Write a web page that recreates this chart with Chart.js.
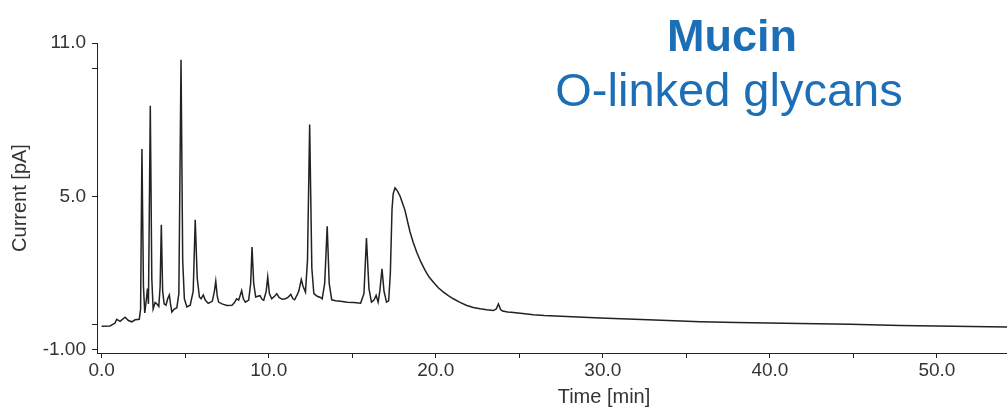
<!DOCTYPE html>
<html>
<head>
<meta charset="utf-8">
<script src="https://cdn.jsdelivr.net/npm/chart.js@4/dist/chart.umd.min.js"></script>
<style>
html, body { margin: 0; padding: 0; background: #fff; overflow: hidden; }
#wrap { width: 1127px; height: 409px; }
</style>
</head>
<body>
<div id="wrap"><canvas id="chromChart" width="1127" height="409"></canvas></div>
<script>
// retention time (min) and detector current (pA)
var times = [
    0.0, 0.5, 0.8, 0.9, 1.1, 1.4, 1.6, 1.8, 2.0, 2.25,
    2.33, 2.41, 2.5, 2.58, 2.68, 2.74, 2.8, 2.91, 3.0, 3.08,
    3.2, 3.3, 3.42, 3.5, 3.57, 3.65, 3.74, 3.85, 3.95, 4.05,
    4.12, 4.2, 4.35, 4.5, 4.62, 4.75, 4.85, 4.95, 5.1, 5.3,
    5.48, 5.6, 5.72, 5.85, 5.95, 6.08, 6.2, 6.38, 6.62, 6.75,
    6.83, 6.92, 7.0, 7.2, 7.5, 7.8, 7.95, 8.08, 8.2, 8.3,
    8.38, 8.48, 8.6, 8.8, 8.92, 9.0, 9.1, 9.22, 9.35, 9.48,
    9.6, 9.7, 9.85, 9.94, 10.04, 10.18, 10.35, 10.48, 10.62, 10.8,
    11.0, 11.15, 11.32, 11.45, 11.55, 11.7, 11.8, 11.95, 12.05, 12.2,
    12.32, 12.45, 12.58, 12.7, 12.9, 13.1, 13.2, 13.35, 13.5, 13.62,
    13.77, 14.0, 14.3, 14.7, 15.1, 15.5, 15.7, 15.85, 16.0, 16.15,
    16.3, 16.43, 16.55, 16.65, 16.78, 16.9, 17.05, 17.18, 17.28, 17.38,
    17.45, 17.56, 17.7, 17.86, 18.0, 18.16, 18.3, 18.46, 18.65, 18.86,
    19.1, 19.36, 19.6, 19.86, 20.15, 20.46, 20.75, 21.05, 21.45, 21.86,
    22.25, 22.65, 23.05, 23.45, 23.62, 23.75, 23.88, 24.0, 24.3, 24.65,
    25.2, 25.84, 26.5, 27.5, 28.5, 29.84, 31.5, 33.5, 35.82, 38.0,
    41.8, 44.8, 47.8, 51.0, 54.2, 55.0
];
var current = [
    -0.07, -0.06, 0.05, 0.2, 0.12, 0.28, 0.15, 0.1, 0.18, 0.2,
    0.6, 6.86, 1.5, 0.45, 1.0, 1.4, 0.8, 8.55, 1.8, 0.6,
    0.85, 0.8, 0.7, 1.5, 3.89, 1.3, 0.8, 0.75, 1.0, 1.15,
    0.8, 0.48, 0.6, 0.65, 1.2, 10.34, 2.5, 1.0, 0.68, 0.75,
    1.3, 4.09, 1.8, 1.07, 1.0, 1.15, 0.95, 0.82, 0.9, 1.3,
    1.69, 1.1, 0.87, 0.8, 0.74, 0.75, 0.85, 1.0, 0.95, 1.15,
    1.32, 1.0, 0.87, 0.95, 1.6, 3.02, 1.6, 1.07, 1.1, 1.12,
    0.98, 0.94, 1.3, 1.85, 1.2, 1.0, 1.1, 1.2, 1.05, 0.98,
    1.0, 1.05, 1.17, 1.0, 0.96, 1.15, 1.3, 1.75, 1.5, 1.26,
    2.5, 7.81, 2.2, 1.2, 1.1, 1.05, 1.0, 1.6, 3.83, 1.6,
    0.96, 0.92, 0.9, 0.86, 0.85, 0.83, 1.2, 3.37, 1.4, 0.87,
    0.95, 1.13, 0.87, 1.3, 2.17, 1.3, 0.87, 0.92, 2.0, 4.5,
    5.1, 5.34, 5.22, 5.02, 4.75, 4.45, 4.05, 3.61, 3.2, 2.82,
    2.45, 2.11, 1.85, 1.65, 1.43, 1.26, 1.12, 1.0, 0.86, 0.74,
    0.66, 0.61, 0.57, 0.54, 0.6, 0.8, 0.58, 0.52, 0.48, 0.46,
    0.42, 0.38, 0.35, 0.32, 0.29, 0.25, 0.21, 0.16, 0.1, 0.07,
    0.03, 0.0, -0.04, -0.07, -0.1, -0.11
];

var xTickValues = [0, 5, 10, 15, 20, 25, 30, 35, 40, 45, 50, 55, 60];
var xTickLabels = ['0.0', '', '10.0', '', '20.0', '', '30.0', '', '40.0', '', '50.0', '', ''];
var yTickValues = [-1, 0, 5, 10, 11];
var yTickLabels = ['-1.00', '', '5.0', '', '11.0'];
var titleLines = ['Mucin', 'O-linked glycans'];

var fontFamily = '"Liberation Sans", Arial, sans-serif';
var axisColor = '#222';
var textColor = '#333';
var titleColor = '#1c6fb6';

// sample name, top right inside the plot
var titlePlugin = {
    id: 'sampleTitle',
    afterDraw(chart) {
        var c = chart.ctx;
        c.save();
        c.fillStyle = titleColor;
        c.textAlign = 'center';
        c.textBaseline = 'alphabetic';
        c.font = 'bold 45px ' + fontFamily;
        c.fillText(titleLines[0], 732, 51);
        c.font = '47px ' + fontFamily;
        c.fillText(titleLines[1], 729, 106);
        c.restore();
    }
};

var ctx = document.getElementById('chromChart').getContext('2d');
var chromChart = new Chart(ctx, {
    type: 'line',
    data: {
        datasets: [{
            label: 'Mucin',
            data: times.map((t, i) => ({ x: t, y: current[i] })),
            borderColor: '#222',
            borderWidth: 1.5,
            pointRadius: 0,
            tension: 0,
            fill: false
        }]
    },
    options: {
        responsive: false,
        animation: false,
        devicePixelRatio: 1,
        layout: { padding: { left: 0, right: 16, top: 43, bottom: 0 } },
        plugins: {
            legend: { display: false },
            tooltip: { enabled: false }
        },
        scales: {
            x: {
                type: 'linear',
                min: -0.28,
                max: 60.42,
                afterBuildTicks: s => { s.ticks = xTickValues.map(v => ({ value: v })); },
                afterFit: s => { s.height = 56; },
                grid: { drawOnChartArea: false, color: axisColor, tickLength: 5 },
                border: { color: axisColor, width: 1 },
                ticks: {
                    autoSkip: false,
                    maxRotation: 0,
                    padding: 1,
                    color: textColor,
                    font: { family: fontFamily, size: 19 },
                    callback: (v, i) => xTickLabels[i]
                },
                title: {
                    display: true,
                    text: 'Time [min]',
                    color: textColor,
                    font: { family: fontFamily, size: 20 },
                    padding: { top: 0, bottom: 0 }
                }
            },
            y: {
                min: -1.12,
                max: 11,
                afterBuildTicks: s => { s.ticks = yTickValues.map(v => ({ value: v })); },
                afterFit: s => { s.width = 97; },
                grid: { drawOnChartArea: false, color: axisColor, tickLength: 5 },
                border: { color: axisColor, width: 1 },
                ticks: {
                    autoSkip: false,
                    padding: 6,
                    color: textColor,
                    font: { family: fontFamily, size: 19 },
                    callback: (v, i) => yTickLabels[i]
                },
                title: {
                    display: true,
                    text: 'Current [pA]',
                    color: textColor,
                    font: { family: fontFamily, size: 20 },
                    padding: { top: 8, bottom: 0 }
                }
            }
        }
    },
    plugins: [titlePlugin]
});
</script>
</body>
</html>
